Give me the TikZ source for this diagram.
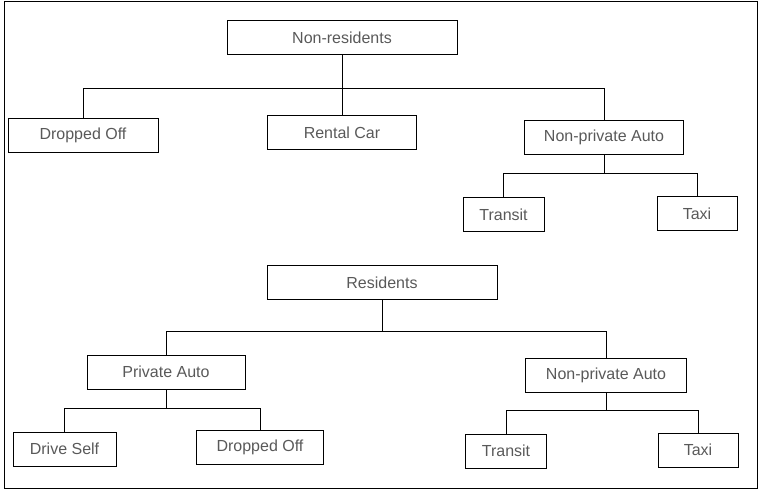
\documentclass[tikz,border=0pt]{standalone}
\usepackage{fontspec}
\setmainfont{Liberation Sans}
\usepackage{tikz}
\usetikzlibrary{calc}
\definecolor{labelgray}{RGB}{89,89,89}
\tikzset{
    box/.style={
        draw=black, rectangle, line width=1pt,
        minimum height=34pt, inner sep=0pt,
        text=labelgray, font=\fontsize{16}{19}\selectfont
    }
}

\begin{document}
\begin{tikzpicture}[
        x=1pt, y=-1pt, line width=1pt,
        link/.style={draw=black, line width=1pt}
      ]
    \useasboundingbox (0,0) rectangle (763,494);
    \draw[line width=1pt] (4,2) rectangle (757,488.5);

    % non-residents
    \node[box,minimum width=230pt] (NR)   at (342,38)    {Non-residents};
    \node[box,minimum width=150pt] (DO1)  at (83,135.5)  {Dropped Off};
    \node[box,minimum width=149pt] (RC)   at (342,133)   {Rental Car};
    \node[box,minimum width=159pt] (NPA1) at (604,137.5) {Non-private Auto};
    \node[box,minimum width=81pt]  (TR1)  at (503.5,214.5) {Transit};
    \node[box,minimum width=80pt]  (TX1)  at (697,213.5) {Taxi};

    % residents
    \node[box,minimum width=230pt] (RES)  at (382,282.5) {Residents};
    \node[box,minimum width=158pt] (PA)   at (166,372)   {Private Auto};
    \node[box,minimum width=161pt] (NPA2) at (606,375)   {Non-private Auto};
    \node[box,minimum width=103pt] (DS)   at (64.5,449)  {Drive Self};
    \node[box,minimum width=127pt] (DO2)  at (260,447.5) {Dropped Off};
    \node[box,minimum width=81pt]  (TR2)  at (506,451)   {Transit};
    \node[box,minimum width=80pt]  (TX2)  at (698,450)   {Taxi};

    \coordinate (NRj)   at (342,89);
    \coordinate (NPA1j) at (604,174);
    \coordinate (RESj)  at (382,331);
    \coordinate (PAj)   at (166,408);
    \coordinate (NPA2j) at (606,410);

    \draw[link] (NR.south) -- (NRj);
    \draw[link] (NRj) -| (DO1.north);
    \draw[link] (NRj) -| (RC.north);
    \draw[link] (NRj) -| (NPA1.north);
    \draw[link] (NPA1.south) -- (NPA1j);
    \draw[link] (NPA1j) -| (TR1.north);
    \draw[link] (NPA1j) -| (TX1.north);

    \draw[link] (RES.south) -- (RESj);
    \draw[link] (RESj) -| (PA.north);
    \draw[link] (RESj) -| (NPA2.north);
    \draw[link] (PA.south) -- (PAj);
    \draw[link] (PAj) -| (DS.north);
    \draw[link] (PAj) -| (DO2.north);
    \draw[link] (NPA2.south) -- (NPA2j);
    \draw[link] (NPA2j) -| (TR2.north);
    \draw[link] (NPA2j) -| (TX2.north);

\end{tikzpicture}
\end{document}
